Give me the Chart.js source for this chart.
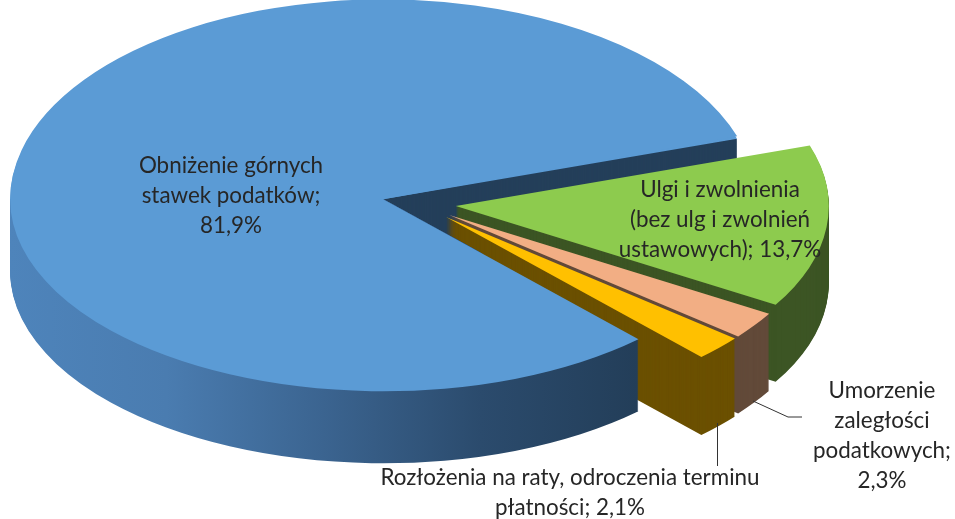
<!DOCTYPE html>
<html lang="pl">
<head>
<meta charset="utf-8">
<title>Wykres kołowy</title>
<style>
html,body{margin:0;padding:0;background:#fff;}
canvas{display:block;}
</style>
<script src="https://cdn.jsdelivr.net/npm/chart.js@4/dist/chart.umd.min.js"></script>
</head>
<body>
<canvas id="c" width="955" height="519"></canvas>
<script>
const categories = [
  "Obniżenie górnych stawek podatków",
  "Ulgi i zwolnienia (bez ulg i zwolnień ustawowych)",
  "Umorzenie zaległości podatkowych",
  "Rozłożenia na raty, odroczenia terminu płatności"
];
const values = [81.9, 13.7, 2.3, 2.1];
const topColors = ["#5b9bd5", "#8dcb4e", "#f2ae84", "#ffc000"];
const wallColors = ["#243f5a", "#3c5524", "#624a39", "#6b5000"];
const wallDepths = [72, 77, 77, 78];
const labelLines = [
  ["Obniżenie górnych", "stawek podatków;", "%v"],
  ["Ulgi i zwolnienia", "(bez ulg i zwolnień", "ustawowych); %v"],
  ["Umorzenie", "zaległości", "podatkowych;", "%v"],
  ["Rozłożenia na raty, odroczenia terminu", "płatności; %v"]
];
const labelCenters = [[231, 166], [720, 190], [882, 391], [570, 478]];
const labelPitch = 30;
const leaders = [
  [[753, 401], [788, 417], [802, 417]],
  [[717.5, 423], [717.5, 466]]
];

const CX = 419, CY = 204, RX = 373, RY = 192, RY_BACK = 200, EXPLODE = 37;

const pie3d = {
  id: 'pie3d',
  beforeDatasetDraw(chart) {
    const ctx = chart.ctx;
    const arcs = chart.getDatasetMeta(0).data;
    const H = chart.height;

    const geom = (arc, ry) => {
      const mid = (arc.startAngle + arc.endAngle) / 2;
      return {
        ax: CX + EXPLODE * Math.cos(mid),
        ay: CY + EXPLODE * (RY / RX) * Math.sin(mid),
        kx: RX / arc.outerRadius,
        ky: (ry || RY) / arc.outerRadius
      };
    };
    const paint = (arc, dy, fill, ry) => {
      const g = geom(arc, ry);
      const saved = arc.options;
      arc.options = Object.create(saved, {
        backgroundColor: { value: fill },
        borderWidth: { value: 0 }
      });
      ctx.save();
      ctx.translate(g.ax, g.ay + dy);
      ctx.scale(g.kx, g.ky);
      ctx.translate(-arc.x, -arc.y);
      arc.draw(ctx);
      ctx.restore();
      arc.options = saved;
    };
    const walls = (arc, depth, fill) => {
      for (let dy = depth; dy >= 1; dy--) paint(arc, dy, fill);
    };
    const clipTo = pts => {
      ctx.beginPath();
      pts.forEach((p, i) => i ? ctx.lineTo(p[0], p[1]) : ctx.moveTo(p[0], p[1]));
      ctx.closePath();
      ctx.clip();
    };

    const blue = arcs[0];
    const g0 = geom(blue);
    const T = wallDepths[0];
    const end = [g0.ax + RX * Math.cos(blue.endAngle), g0.ay + RY * Math.sin(blue.endAngle)];
    const start = [g0.ax + RX * Math.cos(blue.startAngle), g0.ay + RY * Math.sin(blue.startAngle)];

    // back cut face of the large slice
    ctx.save();
    clipTo([[g0.ax, g0.ay], end, [end[0], end[1] + T], [g0.ax, g0.ay + T]]);
    walls(blue, T, wallColors[0]);
    ctx.restore();

    // the small slices, back to front
    for (let i = 1; i < arcs.length; i++) {
      walls(arcs[i], wallDepths[i], wallColors[i]);
      paint(arcs[i], 0, topColors[i]);
    }

    // front outer wall and top of the large slice
    const x2c = x => blue.x + (x - g0.ax) / g0.kx;
    const grad = ctx.createLinearGradient(x2c(10), 0, x2c(637), 0);
    grad.addColorStop(0, "#4e84bb");
    grad.addColorStop(0.25, "#4a7cb0");
    grad.addColorStop(0.5, "#3b6490");
    grad.addColorStop(0.75, "#2b4b6d");
    grad.addColorStop(1, "#233e59");
    ctx.save();
    clipTo([[g0.ax, g0.ay], start, [start[0], H], [0, H], [0, g0.ay]]);
    walls(blue, T, grad);
    ctx.restore();
    paint(blue, 0, topColors[0]);
    // the far rim sits slightly higher: perspective of the original
    ctx.save();
    ctx.beginPath();
    ctx.rect(0, 0, chart.width, g0.ay);
    ctx.clip();
    paint(blue, 0, topColors[0], RY_BACK);
    ctx.restore();
    return false;
  },
  afterDraw(chart) {
    const ctx = chart.ctx;
    ctx.save();
    ctx.strokeStyle = "#333333";
    ctx.lineWidth = 1;
    leaders.forEach(pts => {
      ctx.beginPath();
      pts.forEach((p, i) => i ? ctx.lineTo(p[0], p[1]) : ctx.moveTo(p[0], p[1]));
      ctx.stroke();
    });
    ctx.fillStyle = "#262626";
    ctx.font = '22.4px Lato, "Open Sans", sans-serif';
    ctx.textAlign = "center";
    ctx.textBaseline = "middle";
    labelLines.forEach((lines, i) => {
      const txt = values[i].toFixed(1).replace(".", ",") + "%";
      lines.forEach((ln, j) => {
        ctx.fillText(ln.replace("%v", txt), labelCenters[i][0], labelCenters[i][1] + j * labelPitch);
      });
    });
    ctx.restore();
  }
};

new Chart(document.getElementById("c"), {
  type: "pie",
  data: {
    labels: categories,
    datasets: [{ data: values, backgroundColor: topColors, borderWidth: 0 }]
  },
  options: {
    responsive: false,
    animation: false,
    rotation: 136.8,
    layout: { padding: 0 },
    plugins: { legend: { display: false }, tooltip: { enabled: false } }
  },
  plugins: [pie3d]
});
</script>
</body>
</html>
